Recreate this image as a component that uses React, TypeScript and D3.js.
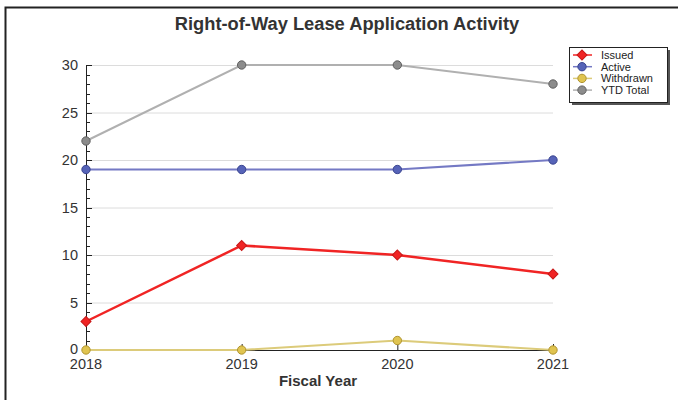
import React, { useRef, useEffect } from 'react';
import * as d3 from 'd3';

const years = [2018, 2019, 2020, 2021];
const issued = [3, 11, 10, 8];
const active = [19, 19, 19, 20];
const withdrawn = [0, 0, 1, 0];
const ytdTotal = [22, 30, 30, 28];
const yTicks = [0, 5, 10, 15, 20, 25, 30];

const series = [
  { name: 'Issued', values: issued, line: '#f02424', fill: '#f02424', stroke: '#c81818', shape: 'diamond' },
  { name: 'Active', values: active, line: '#7479c4', fill: '#5663b8', stroke: '#3a4590', shape: 'circle' },
  { name: 'Withdrawn', values: withdrawn, line: '#dccb7a', fill: '#e0c450', stroke: '#b09430', shape: 'circle' },
  { name: 'YTD Total', values: ytdTotal, line: '#b0b0b0', fill: '#8c8c8c', stroke: '#606060', shape: 'circle' },
];

const App = () => {
  const svgRef = useRef(null);

  useEffect(() => {
    const svg = d3.select(svgRef.current);
    svg.selectAll('*').remove();
    const font = 'Arial, "Liberation Sans", sans-serif';

    // outer frame
    svg.append('path')
      .attr('d', 'M5.5,400 L5.5,7.5 L678,7.5')
      .attr('fill', 'none')
      .attr('stroke', '#222')
      .attr('stroke-width', 2);

    const x = d3.scalePoint<number>().domain(years).range([86, 553]);
    const y = d3.scaleLinear().domain([0, 30]).range([350, 65]);

    // gridlines
    svg.append('g')
      .selectAll('line')
      .data(yTicks.filter(t => t > 0))
      .join('line')
      .attr('x1', 86).attr('x2', 553)
      .attr('y1', d => y(d) + 0.5).attr('y2', d => y(d) + 0.5)
      .attr('stroke', '#dcdcdc');

    // y axis minor ticks
    svg.append('g')
      .selectAll('line')
      .data(d3.range(0, 31))
      .join('line')
      .attr('x1', 86).attr('x2', d => (d % 5 === 0 ? 92 : 90))
      .attr('y1', d => Math.round(y(d)) + 0.5).attr('y2', d => Math.round(y(d)) + 0.5)
      .attr('stroke', '#222');

    svg.append('line')
      .attr('x1', 86.5).attr('x2', 86.5).attr('y1', 65).attr('y2', 350)
      .attr('stroke', '#222');

    svg.append('g')
      .selectAll('text')
      .data(yTicks)
      .join('text')
      .attr('x', 78).attr('y', d => y(d) + (d === 0 ? 4 : 5))
      .attr('text-anchor', 'end')
      .attr('font-family', font).attr('font-size', 14.5)
      .attr('fill', '#333')
      .text(d => d);

    // x axis
    svg.append('line')
      .attr('x1', 86).attr('x2', 553).attr('y1', 350.5).attr('y2', 350.5)
      .attr('stroke', '#222');
    svg.append('g')
      .selectAll('line')
      .data(years)
      .join('line')
      .attr('x1', d => x(d)! + 0.5).attr('x2', d => x(d)! + 0.5)
      .attr('y1', 344).attr('y2', 350)
      .attr('stroke', '#222');
    svg.append('g')
      .selectAll('text')
      .data(years)
      .join('text')
      .attr('x', d => x(d)!).attr('y', 369)
      .attr('text-anchor', 'middle')
      .attr('font-family', font).attr('font-size', 14.5)
      .attr('fill', '#333')
      .text(d => d);

    svg.append('text')
      .attr('x', 318).attr('y', 386)
      .attr('text-anchor', 'middle')
      .attr('font-family', font).attr('font-size', 15).attr('font-weight', 'bold')
      .attr('fill', '#333')
      .text('Fiscal Year');

    svg.append('text')
      .attr('x', 347).attr('y', 30)
      .attr('text-anchor', 'middle')
      .attr('font-family', font).attr('font-size', 18.3).attr('font-weight', 'bold')
      .attr('fill', '#333')
      .text('Right-of-Way Lease Application Activity');

    const diamond = d3.symbol().type(d3.symbolSquare).size(50);
    const circle = d3.symbol().type(d3.symbolCircle).size(55);

    const drawMarker = (g, s, cx, cy) => {
      g.append('path')
        .attr('d', s.shape === 'diamond' ? diamond() : circle())
        .attr('transform', `translate(${cx},${cy})${s.shape === 'diamond' ? ' rotate(45)' : ''}`)
        .attr('fill', s.fill)
        .attr('stroke', s.stroke)
        .attr('stroke-width', 1);
    };

    const line = d3.line<number>()
      .x((d, i) => x(years[i])!)
      .y(d => y(d));

    // draw back-to-front: YTD, Withdrawn, Active, Issued
    [...series].reverse().forEach(s => {
      const g = svg.append('g');
      g.append('path')
        .datum(s.values)
        .attr('d', line)
        .attr('fill', 'none')
        .attr('stroke', s.line)
        .attr('stroke-width', s.name === 'Issued' ? 2.5 : 2);
      s.values.forEach((v, i) => drawMarker(g, s, x(years[i]), y(v)));
    });

    // legend
    const lg = svg.append('g');
    lg.append('rect')
      .attr('x', 572).attr('y', 50).attr('width', 98).attr('height', 55)
      .attr('fill', '#555');
    lg.append('rect')
      .attr('x', 569.5).attr('y', 47.5).attr('width', 98).attr('height', 55)
      .attr('fill', '#fff').attr('stroke', '#222');
    series.forEach((s, i) => {
      const ly = 55 + i * 11.7;
      lg.append('line')
        .attr('x1', 573).attr('x2', 592).attr('y1', ly).attr('y2', ly)
        .attr('stroke', s.line).attr('stroke-width', 1.5);
      const mg = lg.append('g');
      drawMarker(mg, s, 582, ly);
      lg.append('text')
        .attr('x', 601).attr('y', ly + 4)
        .attr('font-family', font).attr('font-size', 11)
        .attr('fill', '#222')
        .text(s.name);
    });
  }, []);

  return (
    <svg ref={svgRef} width={678} height={400}
      style={{ position: 'absolute', left: 0, top: 0, background: '#fff' }} />
  );
};

export default App;
